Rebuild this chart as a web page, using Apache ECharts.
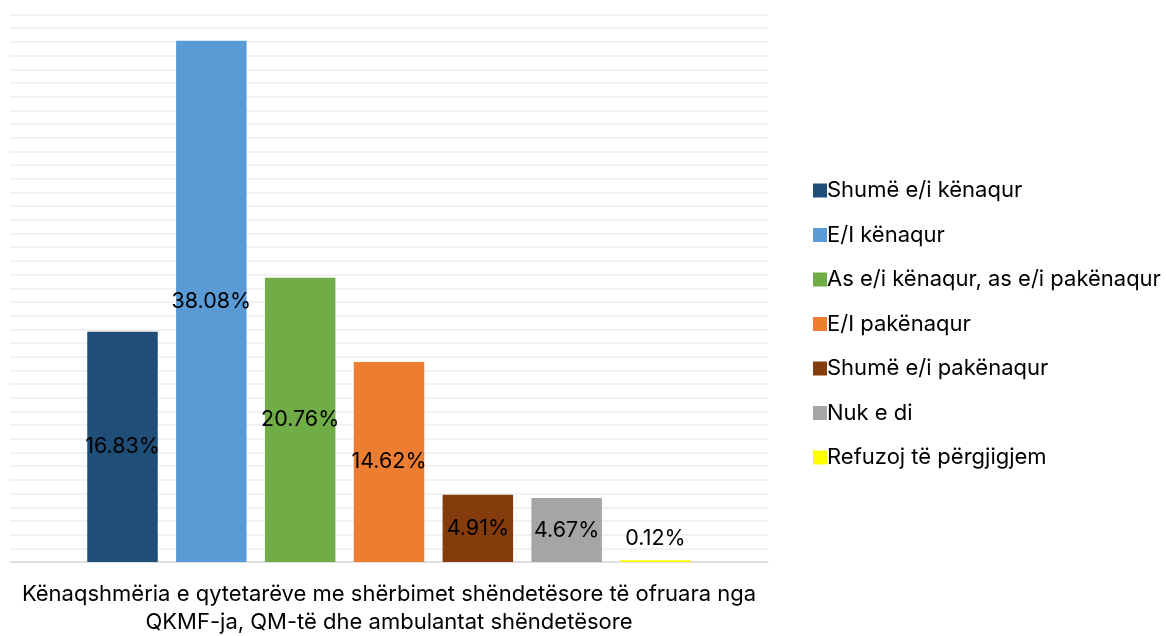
<!DOCTYPE html>
<html>
<head>
<meta charset="utf-8">
<script src="https://cdn.jsdelivr.net/npm/echarts@6/dist/echarts.min.js"></script>
<style>html,body{margin:0;padding:0;background:#fff}#c{width:1166px;height:636px}</style>
</head>
<body>
<div id="c"></div>
<script>
const categories = ["Kënaqshmëria e qytetarëve me shërbimet shëndetësore të ofruara nga\nQKMF-ja, QM-të dhe ambulantat shëndetësore"];
const seriesNames = ["Shumë e/i kënaqur", "E/I kënaqur", "As e/i kënaqur, as e/i pakënaqur", "E/I pakënaqur", "Shumë e/i pakënaqur", "Nuk e di", "Refuzoj të përgjigjem"];
const seriesValues = [16.83, 38.08, 20.76, 14.62, 4.91, 4.67, 0.12];
const colors = ["#1F4E79", "#5B9BD5", "#70AD47", "#ED7D31", "#843C0C", "#A5A5A5", "#FFFF00"];

const FONT = "Inter, 'Noto Sans', sans-serif";
const chart = echarts.init(document.getElementById('c'), null, {renderer: 'canvas'});
const series = seriesNames.map((name, i) => ({
  name: name,
  type: 'bar',
  data: [seriesValues[i]],
  barWidth: 70.5,
  barGap: '26%',
  itemStyle: {color: colors[i]},
  label: {
    show: true,
    position: seriesValues[i] < 2 ? 'top' : 'inside',
    distance: 11,
    formatter: p => p.value.toFixed(2) + '%',
    color: '#000',
    fontSize: 21.5,
    fontFamily: FONT
  }
}));

chart.setOption({
  animation: false,
  backgroundColor: '#fff',
  grid: {left: 10, right: 398, top: 14.5, bottom: 70, containLabel: false},
  legend: {
    orient: 'vertical',
    left: 808,
    top: 174.5,
    itemWidth: 14,
    itemHeight: 14,
    itemGap: 22.5,
    icon: 'rect',
    textStyle: {fontSize: 22, fontFamily: FONT, color: '#000', padding: [0, 0, 0, -5]},
    data: seriesNames
  },
  xAxis: {
    type: 'category',
    data: categories,
    axisLine: {show: true, lineStyle: {color: '#d9d9d9', width: 1.5}},
    axisTick: {show: false},
    axisLabel: {fontSize: 22, fontFamily: FONT, color: '#000', lineHeight: 28, margin: 18, interval: 0}
  },
  yAxis: {
    type: 'value',
    min: 0,
    max: 40,
    interval: 1,
    axisLabel: {show: false},
    axisLine: {show: false},
    axisTick: {show: false},
    splitLine: {show: true, lineStyle: {color: '#f2f2f2', width: 2}}
  },
  series: series
});
</script>
</body>
</html>
